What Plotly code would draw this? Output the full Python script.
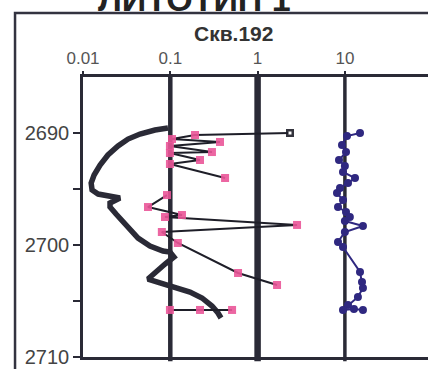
import plotly.graph_objects as go

# --- data -------------------------------------------------------------
depth_ticks = [2690, 2695, 2700, 2705, 2710]
depth_labels = ["2690", "", "2700", "", "2710"]
log_ticks = [0.01, 0.1, 1, 10]
log_labels = ["0.01", "0.1", "1", "10"]
ref_lines = [0.1, 1, 10]

# thick log curve
curve_x = [0.0941, 0.0668, 0.0450, 0.0328, 0.0252, 0.0193, 0.0157, 0.0134, 0.0124,
           0.0127, 0.0149, 0.0215, 0.0265, 0.0204, 0.0204, 0.0239, 0.0287, 0.0346,
           0.0427, 0.0585, 0.0825, 0.0992, 0.1102, 0.0870, 0.0668, 0.0555, 0.0762,
           0.1132, 0.1681, 0.2308, 0.3004, 0.3519, 0.381]
curve_y = [2689.55, 2689.73, 2690.09, 2690.54, 2691.16, 2691.96, 2692.86, 2693.75, 2694.46,
           2695.09, 2695.45, 2695.71, 2695.80, 2696.25, 2696.61, 2697.23, 2697.86, 2698.66,
           2699.38, 2700.09, 2700.54, 2700.63, 2701.07, 2701.70, 2702.41, 2703.04, 2703.39,
           2703.75, 2704.20, 2704.73, 2705.45, 2706.07, 2706.52]

# pink sample series (None = break in the line)
pink_x = [2.35, 0.192, 0.1046, 0.371, 0.099, 0.30, 0.099, 0.219, 0.099, 0.424, None,
          0.0916, 0.0555, 0.136, 0.0869, 2.83, 0.080, 0.122, 0.597, 1.67, None,
          0.099, 0.219, 0.51]
pink_y = [2690.0, 2690.18, 2690.54, 2690.8, 2691.16, 2691.7, 2691.79, 2692.41, 2692.77,
          2694.02, None, 2695.54, 2696.61, 2697.32, 2697.5, 2698.21, 2698.84, 2699.82,
          2702.5, 2703.57, None, 2705.8, 2705.8, 2705.8]

# blue series around 10
blue_x = [14.9, 10.57, 9.26, 10.3, 8.56, 10.0, 9.51, 13.05, 10.86, 8.79, 8.12, 9.51,
          8.34, 10.3, 11.4, 10.0, 16.1, 10.0, 8.34, 9.51, 14.9, 15.7, 16.1, 14.1,
          10.86, 9.51, 12.7, 16.1]
blue_y = [2690.0, 2690.27, 2691.07, 2691.7, 2692.41, 2692.95, 2693.48, 2694.02, 2694.46,
          2694.91, 2695.36, 2695.98, 2696.61, 2697.05, 2697.5, 2697.86, 2698.3, 2698.84,
          2699.73, 2700.18, 2702.41, 2703.3, 2703.84, 2704.64, 2705.36, 2705.8, 2705.71,
          2705.8]

# --- figure -----------------------------------------------------------
DARK = "#2a2a36"
PINK = "#ea5598"
BLUE = "#2f2880"
FONT = "Arial, Liberation Sans, sans-serif"

fig = go.Figure()

fig.add_trace(go.Scatter(
    x=curve_x, y=curve_y, mode="lines",
    line=dict(color=DARK, width=5.5), hoverinfo="skip"))

pink_colors = ["#1e1e28"] + [PINK] * (len(pink_x) - 1)
fig.add_trace(go.Scatter(
    x=pink_x, y=pink_y, mode="lines+markers", connectgaps=False,
    line=dict(color="#1e1e28", width=2),
    marker=dict(symbol="square", size=8, color=pink_colors, opacity=0.9,
                line=dict(width=0))))
# white centre of the first (open) square
fig.add_trace(go.Scatter(
    x=pink_x[:1], y=pink_y[:1], mode="markers",
    marker=dict(symbol="square", size=3, color="white")))

fig.add_trace(go.Scatter(
    x=blue_x, y=blue_y, mode="lines+markers",
    line=dict(color=BLUE, width=2),
    marker=dict(symbol="circle", size=8, color=BLUE)))

ref_widths = {0.1: 4.5, 1: 6.5, 10: 3.5}
for v in ref_lines:
    fig.add_shape(type="line", xref="x", yref="paper", x0=v, x1=v, y0=-0.015, y1=1,
                  line=dict(color=DARK, width=ref_widths[v]), layer="below")

# outer frame
fig.add_shape(type="path", xref="paper", yref="paper",
              path="M -0.197,-0.05 L -0.197,1.229 L 1.01,1.229",
              line=dict(color="#333340", width=2.5))

fig.add_annotation(text="<b>Скв.192</b>", xref="paper", yref="paper",
                   x=0.4348, y=1.157, xanchor="center", yanchor="middle",
                   showarrow=False,
                   font=dict(family=FONT, size=21, color="#333"))
fig.add_annotation(text="<b>ЛИТОТИП 1</b>", xref="paper", yref="paper",
                   x=0.322, y=1.205, xanchor="center", yanchor="bottom",
                   showarrow=False,
                   font=dict(family=FONT, size=34, color="#222"))

fig.update_layout(
    width=428, height=369,
    margin=dict(l=83, r=0, t=77, b=12),
    paper_bgcolor="white", plot_bgcolor="white",
    showlegend=False,
    font=dict(family=FONT, color="#444"),
    xaxis=dict(type="log", side="top", range=[-2, 1.952],
               tickvals=log_ticks, ticktext=log_labels,
               ticks="outside", ticklen=3, tickcolor=DARK, tickwidth=2,
               showline=True, linecolor=DARK, linewidth=2.5, mirror=True,
               showgrid=False, zeroline=False,
               tickfont=dict(size=17, color="#555")),
    yaxis=dict(range=[2710, 2685], tickvals=depth_ticks, ticktext=depth_labels,
               ticks="outside", ticklen=7, tickcolor=DARK, tickwidth=2,
               showline=True, linecolor=DARK, linewidth=2.5,
               showgrid=False, zeroline=False,
               tickfont=dict(size=20, color="#444")),
)

fig.write_html("out.html")
